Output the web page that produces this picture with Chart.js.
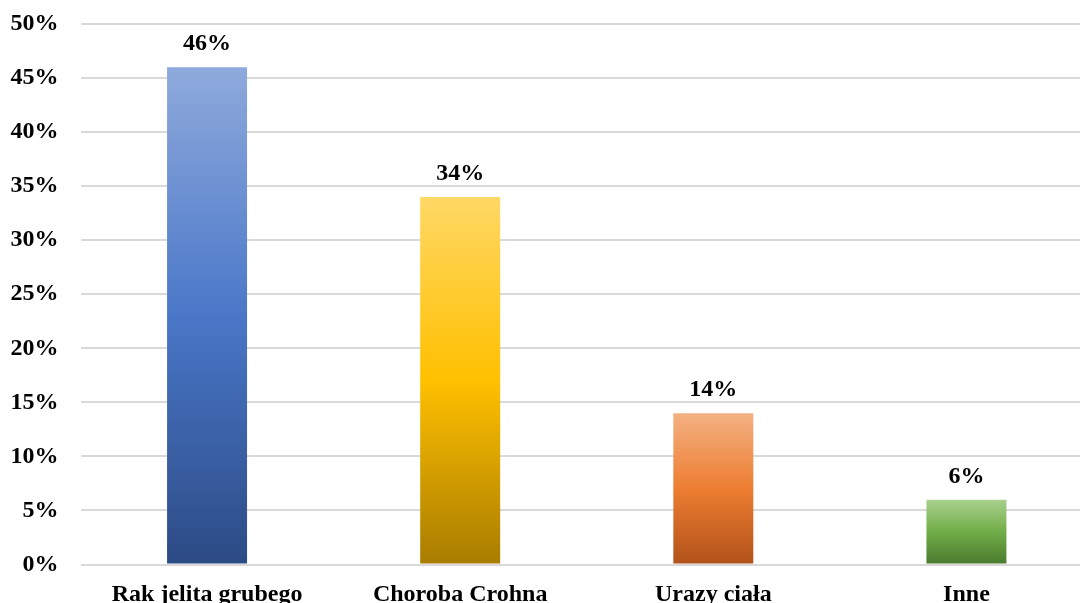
<!DOCTYPE html>
<html lang="pl">
<head>
<meta charset="utf-8">
<title>Przyczyny</title>
<script src="https://cdn.jsdelivr.net/npm/chart.js@4/dist/chart.umd.min.js"></script>
<style>
  html, body { margin: 0; padding: 0; background: #fff; overflow: hidden; }
  #wrap { width: 1080px; height: 603px; overflow: hidden; }
</style>
</head>
<body>
<div id="wrap"><canvas id="chart" width="1093" height="603"></canvas></div>
<script>
// Dane wykresu
const kategorie = ['Rak jelita grubego', 'Choroba Crohna', 'Urazy ciała', 'Inne'];
const wartosci = [46, 34, 14, 6];
// kolory gradientu: góra, środek, dół
const kolory = [
  ['#8faadc', '#4a77c8', '#2c4b85'],
  ['#ffd865', '#ffc000', '#a87c00'],
  ['#f4b183', '#ed7d31', '#b1511a'],
  ['#a9d18e', '#70ad47', '#4b7a2f']
];

const czcionka = '"Liberation Serif", "Times New Roman", serif';

// Gradient pionowy dla każdego słupka osobno
function gradient(ctx) {
  const chart = ctx.chart;
  const y = chart.scales.y;
  const i = ctx.dataIndex;
  if (!y || i === undefined) return kolory[0][1];
  const top = y.getPixelForValue(wartosci[i]);
  const bottom = y.getPixelForValue(0);
  if (!isFinite(top) || !isFinite(bottom) || top === bottom) return kolory[i][1];
  const g = chart.ctx.createLinearGradient(0, top, 0, bottom);
  const c = kolory[i];
  g.addColorStop(0, c[0]);
  g.addColorStop(0.5, c[1]);
  g.addColorStop(1, c[2]);
  return g;
}

// Etykiety z wartościami nad słupkami
const etykiety = {
  id: 'etykiety',
  afterDatasetsDraw(chart) {
    const ctx = chart.ctx;
    const meta = chart.getDatasetMeta(0);
    ctx.save();
    ctx.font = 'bold 24px ' + czcionka;
    ctx.fillStyle = '#000';
    ctx.textAlign = 'center';
    ctx.textBaseline = 'alphabetic';
    meta.data.forEach(function(bar, i) {
      ctx.fillText(wartosci[i] + '%', bar.x, bar.y - 17);
    });
    ctx.restore();
  }
};

const wykres = new Chart(document.getElementById('chart'), {
  type: 'bar',
  data: {
    labels: kategorie,
    datasets: [{
      data: wartosci,
      backgroundColor: gradient,
      borderWidth: 0,
      categoryPercentage: 1,
      barPercentage: 0.316
    }]
  },
  options: {
    responsive: false,
    animation: false,
    devicePixelRatio: 1,
    layout: { padding: { top: 24, left: 0, right: 0, bottom: 0 } },
    plugins: {
      legend: { display: false },
      tooltip: { enabled: false }
    },
    scales: {
      x: {
        grid: { display: false, drawTicks: false },
        border: { display: false },
        ticks: {
          color: '#000',
          padding: 16,
          font: { family: czcionka, size: 24, weight: 'bold' }
        },
        afterFit: function(scale) { scale.height = 38.5; }
      },
      y: {
        min: 0,
        max: 50,
        grid: { color: '#d9d9d9', lineWidth: 2, drawTicks: false },
        border: { display: false },
        ticks: {
          stepSize: 5,
          color: '#000',
          padding: 22,
          font: { family: czcionka, size: 24, weight: 'bold' },
          callback: function(v) { return v + '%'; }
        },
        afterFit: function(scale) {
          scale.width = 80.5;
          scale.paddingTop = 0;
          scale.paddingBottom = 0;
        }
      }
    }
  },
  plugins: [etykiety]
});
wykres.update();
</script>
</body>
</html>
